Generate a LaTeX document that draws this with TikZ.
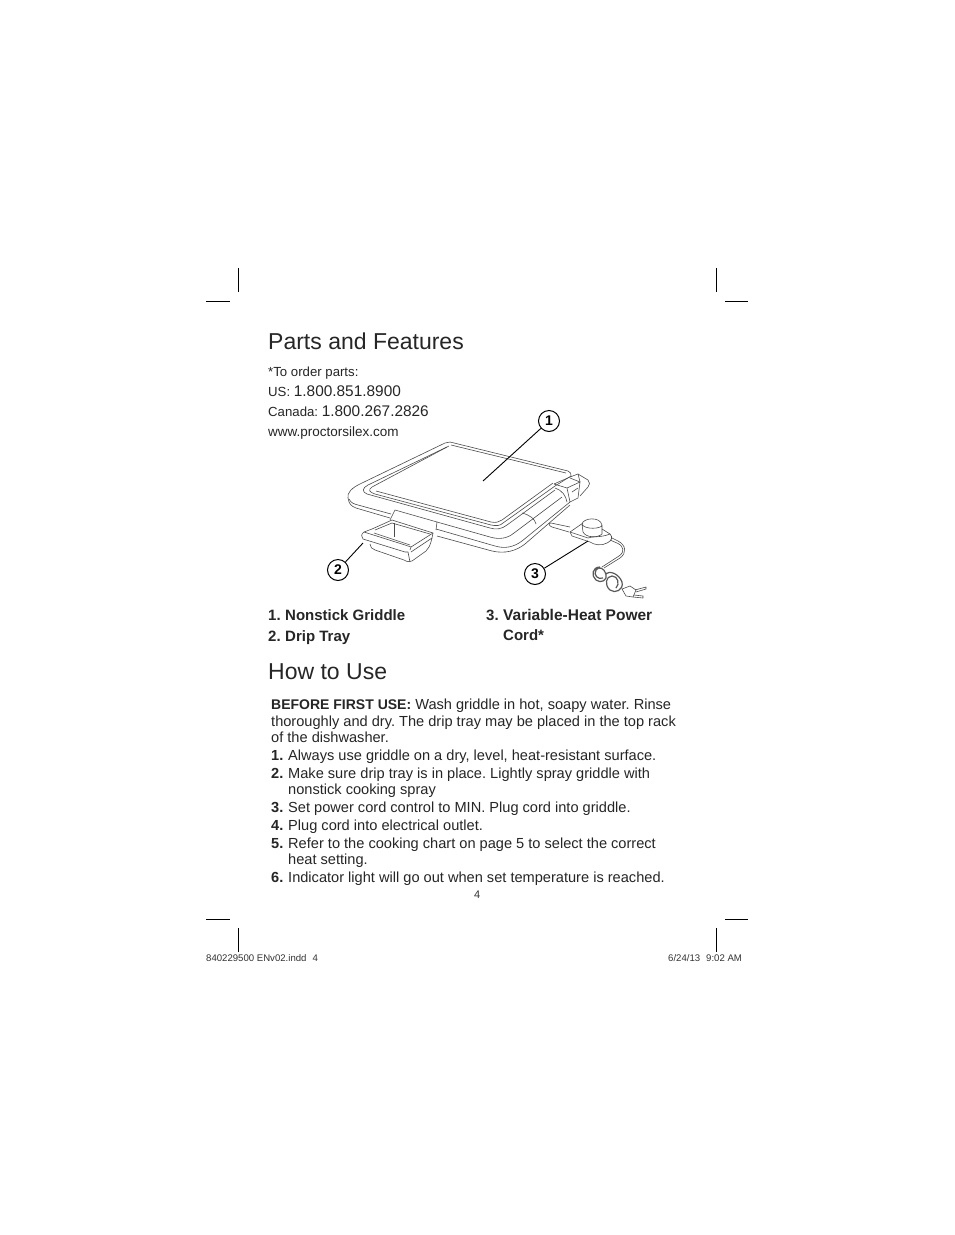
\documentclass[tikz,border=0pt]{standalone}
\usepackage{fontspec}
\setmainfont{Liberation Sans}
\frenchspacing
\usetikzlibrary{positioning}
\tikzset{
	heading/.style={anchor=base west, inner sep=0pt, font=\fontsize{23}{23}\selectfont, text=black!85},
	small/.style={anchor=base west, inner sep=0pt, font=\fontsize{13.2}{14}\selectfont, text=black!85},
	body/.style={anchor=base west, inner sep=0pt, font=\fontsize{14.6}{14.6}\selectfont, text=black!85},
	parts/.style={anchor=base west, inner sep=0pt, font=\fontsize{15}{15}\selectfont\bfseries, text=black!85},
	slug/.style={anchor=base west, inner sep=0pt, font=\fontsize{9.6}{9.6}\selectfont, text=black!80},
	callout/.style={circle, draw, line width=1pt, minimum size=21pt, inner sep=0pt, fill=white, font=\fontsize{14}{14}\selectfont\bfseries},
	crop/.style={line width=0.8pt},
	outline/.style={line width=0.6pt, black!70, line join=round},
	leader/.style={line width=0.9pt}
}
\newcommand{\phonenum}[1]{{\fontsize{15.4}{15.4}\selectfont #1}}
\begin{document}
\begin{tikzpicture}[x=1pt, y=-1pt]
	\useasboundingbox[fill=white] (0,0) rectangle (954,1235);
	% crop marks
	\draw[crop] (238,268) -- (238,292);
	\draw[crop] (716,268) -- (716,292);
	\draw[crop] (238,928) -- (238,952);
	\draw[crop] (716,928) -- (716,952);
	\draw[crop] (206,301) -- (230,301);
	\draw[crop] (725,301) -- (748,301);
	\draw[crop] (206,919) -- (230,919);
	\draw[crop] (725,919) -- (748,919);
	% griddle base, outer edge
	\draw[outline] (450,442) .. controls (448,442) and (447,442) .. (445,443) -- (362,483)
		.. controls (351,488) and (347,493) .. (348,498) .. controls (349,504) and (351,506) .. (356,508) -- (390,518);
	\draw[outline] (349,499) .. controls (351,503) and (354,504) .. (358,505) -- (391,514);
	\draw[outline] (390,520) -- (395,510) -- (437,522) -- (436,530);
	\draw[outline] (436,529) -- (495,546) .. controls (505,549) and (514,547) .. (522,541) -- (570,502);
	\draw[outline] (437,536) -- (492,551) .. controls (505,554) and (516,551) .. (525,544) -- (570,505);
	% griddle plate
	\draw[outline] (450,442) -- (568,471) .. controls (571,472) and (571,474) .. (571,476) -- (555,486) -- (503,523)
		.. controls (500,526) and (496,526) .. (491,525) -- (375,494) .. controls (369,492) and (368,490) .. (372,487) -- (447,447);
	\draw[outline] (451,445) -- (566,473);
	\draw[outline] (449,446) -- (368,485) .. controls (362,488) and (362,492) .. (367,494) -- (490,528)
		.. controls (496,530) and (502,529) .. (507,525) -- (555,490);
	\draw[outline] (376,491) -- (491,522) .. controls (496,523) and (499,522) .. (502,520) -- (553,483);
	\draw[outline] (437,522) -- (490,537) .. controls (500,540) and (508,538) .. (514,533) -- (562,497);
	% seam lines on the base
	\draw[outline] (522,513) .. controls (530,515) and (535,519) .. (536,524);
	\draw[outline] (555,488) .. controls (562,490) and (566,496) .. (567,502);
	% socket at the griddle corner
	\draw[outline] (554,484) -- (570,477) -- (578,474) -- (588,480) .. controls (590,482) and (590,485) .. (588,487) -- (580,496);
	\draw[outline] (554,484) -- (567,488) -- (570,502) -- (578,498) -- (580,482) -- (567,488);
	\draw[outline] (578,474) -- (580,482);
	\draw[outline] (572,492) -- (578,488);
	\draw[outline] (570,478) -- (580,482);
	% drip tray
	\draw[outline] (364,532) -- (372,529) -- (392,520) -- (433,533) -- (432,538) -- (411,552);
	\draw[outline] (375,530) -- (392,523) -- (430,534);
	\draw[outline] (433,533) -- (411,547) -- (410,550);
	\draw[outline] (394,523) -- (394,537);
	\draw[outline] (364,532) .. controls (361,534) and (361,537) .. (363,539) -- (405,552) -- (408,552);
	\draw[outline] (364,532) -- (405,545) -- (411,547);
	\draw[outline] (374,533) -- (410,545);
	\draw[outline] (370,544) .. controls (370,547) and (372,549) .. (375,550) -- (404,560) .. controls (407,562) and (410,562) .. (412,561)
		-- (426,551) .. controls (429,548) and (430,546) .. (432,538);
	\draw[outline] (408,552) -- (410,562);
	% control with probe and knob
	\draw[outline] (570,527) -- (551,523) .. controls (548,523) and (549,526) .. (552,527) -- (569,532);
	\draw[outline] (570,532) -- (583,523);
	\draw[outline] (570,532) -- (572,536) -- (590,542) .. controls (594,545) and (602,546) .. (607,543)
		.. controls (612,541) and (613,537) .. (610,534) -- (602,529);
	\draw[outline] (570,532) -- (588,538) .. controls (592,536) and (600,538) .. (610,534);
	\draw[outline] (582,524) .. controls (583,518) and (600,516) .. (602,525) .. controls (602,529) and (584,530) .. (582,524) -- (583,532)
		.. controls (586,538) and (598,538) .. (602,534) -- (602,525);
	% cord and coils
	\draw[outline] (610,540) -- (617,543) .. controls (624,546) and (625,552) .. (619,556) -- (602,567);
	\draw[outline] (612,538) -- (618,541) .. controls (626,545) and (627,553) .. (620,558) -- (604,568);
	\draw[line width=1.2pt, black!65] (600,567) .. controls (592,567) and (591,576) .. (596,580) .. controls (601,584) and (608,580) .. (606,574)
		.. controls (604,568) and (599,566) .. (596,570) .. controls (593,575) and (598,580) .. (603,578);
	\draw[line width=1.2pt, black!65] (605,574) .. controls (610,570) and (619,574) .. (622,582) .. controls (624,590) and (615,594) .. (610,590)
		.. controls (604,585) and (606,576) .. (612,576) .. controls (618,576) and (620,584) .. (616,588);
	% plug
	\draw[outline] (622,589) -- (630,586) -- (636,590) -- (633,597) -- (626,596) -- cycle;
	\draw[outline] (635,590) -- (646,587) -- (646,589) -- (636,592);
	\draw[outline] (634,595) -- (643,596) -- (643,598) -- (633,597);
	% callouts
	\node[callout] (c1) at (549,421) {1};
	\node[callout] (c2) at (338,570) {2};
	\node[callout] (c3) at (535,574) {3};
	\coordinate (griddlept) at (483,481);
	\coordinate (traypt) at (363,543);
	\coordinate (cordpt) at (588,541);
	\draw[leader] (c1) -- (griddlept);
	\draw[leader] (c2) -- (traypt);
	\draw[leader] (c3) -- (cordpt);
	% top of the page
	\node[heading] (title1) at (268,349) {Parts and Features};
	\node[small] (order) at (268,376) {*To order parts:};
	\node[small] (us) at (268,396) {US: \phonenum{1.800.851.8900}};
	\node[small] (canada) at (268,416) {Canada: \phonenum{1.800.267.2826}};
	\node[small, font=\fontsize{13.5}{14}\selectfont] (web) at (268,436) {www.proctorsilex.com};
	\node[parts] (p1) at (268,620) {1.};
	\node[parts] (p1t) at (285,620) {Nonstick Griddle};
	\node[parts] (p2) at (268,641) {2.};
	\node[parts] (p2t) at (285,641) {Drip Tray};
	\node[parts] (p3) at (486,620) {3.};
	\node[parts, font=\fontsize{15.5}{15.5}\selectfont\bfseries] (p3t) at (503,620) {Variable-Heat Power};
	\node[parts] (p3b) at (503,640) {Cord*};
	\node[heading] (title2) at (268,679) {How to Use};
	% instructions
	\node[body] (before) at (271,709) {{\fontsize{14}{14}\selectfont\textbf{BEFORE FIRST USE:}} Wash griddle in hot, soapy water. Rinse};
	\node[body] (before2) at (271,726) {thoroughly and dry. The drip tray may be placed in the top rack};
	\node[body] (before3) at (271,742) {of the dishwasher.};
	\node[body] (s1) at (271,760) {\textbf{1.}};
	\node[body] (s1t) at (288,760) {Always use griddle on a dry, level, heat-resistant surface.};
	\node[body] (s2) at (271,778) {\textbf{2.}};
	\node[body] (s2t) at (288,778) {Make sure drip tray is in place. Lightly spray griddle with};
	\node[body] (s2b) at (288,794) {nonstick cooking spray};
	\node[body] (s3) at (271,812) {\textbf{3.}};
	\node[body] (s3t) at (288,812) {Set power cord control to MIN. Plug cord into griddle.};
	\node[body] (s4) at (271,830) {\textbf{4.}};
	\node[body] (s4t) at (288,830) {Plug cord into electrical outlet.};
	\node[body] (s5) at (271,848) {\textbf{5.}};
	\node[body] (s5t) at (288,848) {Refer to the cooking chart on page 5 to select the correct};
	\node[body] (s5b) at (288,864) {heat setting.};
	\node[body] (s6) at (271,882) {\textbf{6.}};
	\node[body] (s6t) at (288,882) {Indicator light will go out when set temperature is reached.};
	\node[slug, font=\fontsize{11}{11}\selectfont] (pagenum) at (474,898) {4};
	% slug line
	\node[slug] (slugl) at (206,961) {840229500 ENv02.indd\hspace{6pt}4};
	\node[slug] (slugr) at (668,961) {6/24/13\hspace{6pt}9:02 AM};
\end{tikzpicture}
\end{document}
